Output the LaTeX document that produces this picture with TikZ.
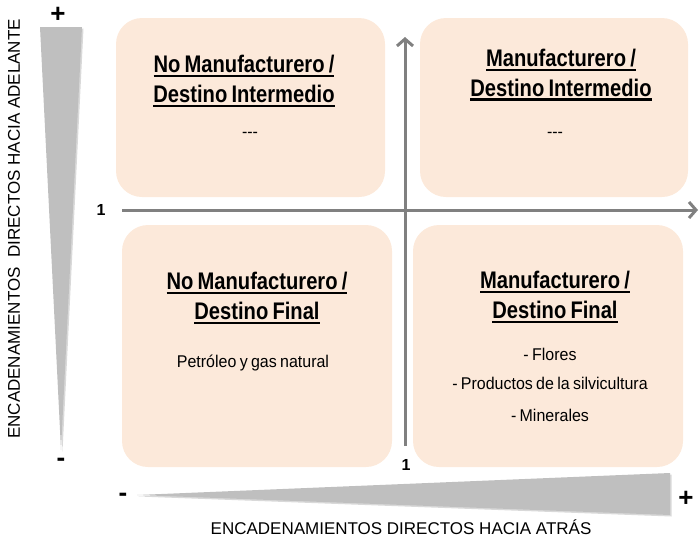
\documentclass[tikz,border=0pt]{standalone}
\usepackage{fontspec}
\setmainfont[FakeStretch=0.84,WordSpace=0.75]{Liberation Sans}
\newfontfamily\bodyfont[FakeStretch=0.94,WordSpace=0.75]{Liberation Sans}
\newfontfamily\plainfont{Liberation Sans}
\usetikzlibrary{arrows.meta}
\definecolor{boxfill}{HTML}{FCE9DA}
\definecolor{axisgray}{HTML}{808080}
\definecolor{wedge}{HTML}{BFBFBF}
\definecolor{wedgeshadow}{HTML}{D9D9D9}
\newcommand\myul[1]{\setbox0\hbox{#1}\rlap{\rule[-4.5pt]{\wd0}{2.2pt}}\box0}
\tikzset{
  quad/.style={fill=boxfill, rounded corners=26pt, draw=none},
  title/.style={font=\fontsize{24}{29.5}\selectfont\bfseries, align=center},
  body/.style={font=\bodyfont\fontsize{17}{20}\selectfont, align=center},
  axis/.style={draw=axisgray, line width=3pt, -{Straight Barb[length=7pt,width=16pt,line width=3pt]}},
  one/.style={font=\plainfont\fontsize{16}{18}\selectfont\bfseries},
  sign/.style={font=\plainfont\fontsize{26}{26}\selectfont\bfseries},
  axlabel/.style={font=\plainfont\fontsize{17}{19}\selectfont},
}
\begin{document}
\begin{tikzpicture}[x=1pt,y=-1pt]
\useasboundingbox (0,0) rectangle (699,539);
% quadrant boxes
\path[quad] (116,18) rectangle (385,197);
\path[quad] (420,18) rectangle (688,197);
\path[quad] (122,225) rectangle (392,467);
\path[quad] (413,225) rectangle (683,467);
% axes
\coordinate (hstart) at (122,210);
\coordinate (hend) at (698,210);
\coordinate (vstart) at (405,446);
\coordinate (vend) at (405,37);
\draw[axis] (hstart) -- (hend);
\draw[axis] (vstart) -- (vend);
\node[one] (oneh) at (101,210) {1};
\node[one] (onev) at (406,465) {1};
% box texts
\node[title] (tl) at (244,81) {\myul{No Manufacturero /}\\\myul{Destino Intermedio}};
\node[body] (tld) at (250,135) {{-}{-}{-}};
\node[title] (tr) at (561,75) {\myul{Manufacturero /}\\\myul{Destino Intermedio}};
\node[body] (trd) at (555,135) {{-}{-}{-}};
\node[title] (bl) at (257,298) {\myul{No Manufacturero /}\\\myul{Destino Final}};
\node[body] (blt) at (253,363) {Petróleo y gas natural};
\node[title] (br) at (555,297) {\myul{Manufacturero /}\\\myul{Destino Final}};
\node[body] (br1) at (550,354) {- Flores};
\node[body] (br2) at (550,383) {- Productos de la silvicultura};
\node[body] (br3) at (550,415) {- Minerales};
% wedges (with a faint shadow)
\fill[wedgeshadow] (41.5,28.5) -- (83.5,28.5) -- (62.5,451.5) -- cycle;
\fill[wedge] (40,27) -- (82,27) -- (61,450) -- cycle;
\fill[wedgeshadow] (138.5,496.5) -- (671.5,474.5) -- (671.5,516.5) -- cycle;
\fill[wedge] (137,495) -- (670,473) -- (670,515) -- cycle;
\node[sign] (vp) at (58,15) {+};
\node[sign] (vm) at (61,462) {-};
\node[sign] (hm) at (123,497) {-};
\node[sign] (hp) at (686,499) {+};
\node[axlabel, rotate=90] (vlab) at (14,229) {ENCADENAMIENTOS\ \ DIRECTOS HACIA ADELANTE};
\node[axlabel] (hlab) at (401,527) {ENCADENAMIENTOS DIRECTOS HACIA ATRÁS};
\end{tikzpicture}
\end{document}
